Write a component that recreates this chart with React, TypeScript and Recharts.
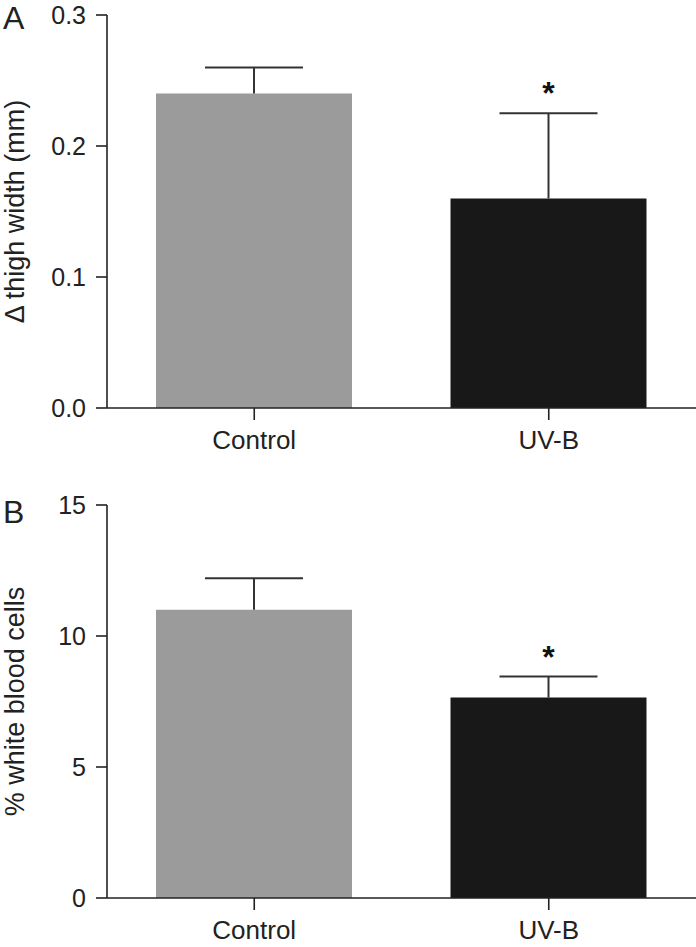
import React from 'react';
import { BarChart, Bar, XAxis, YAxis, Cell } from 'recharts';

const categories = ['Control', 'UV-B'];
const thighMean = [0.24, 0.16];
const thighErrTop = [0.26, 0.225];
const wbcMean = [11.0, 7.65];
const wbcErrTop = [12.2, 8.45];
const significant = [false, true];
const barColors = ['#9b9b9b', '#181818'];
const thighTicks = [0, 0.1, 0.2, 0.3];
const wbcTicks = [0, 5, 10, 15];

const FONT = '"Liberation Sans", Arial, Helvetica, sans-serif';
const AXIS = '#222';

const buildRows = (mean: number[], top: number[]) =>
  categories.map((c, i) => ({
    name: c,
    mean: mean[i],
    err: top[i] - mean[i],
    sig: significant[i],
  }));

const thighRows = buildRows(thighMean, thighErrTop);
const wbcRows = buildRows(wbcMean, wbcErrTop);

const ErrorT = (props: any) => {
  const { x, width, y, height, payload } = props;
  const cx = x + width / 2;
  const yTop = y;
  const yBottom = y + height;
  return (
    <g>
      <line x1={cx} x2={cx} y1={yTop} y2={yBottom} stroke="#333" strokeWidth={2} />
      <line x1={cx - 49} x2={cx + 49} y1={yTop} y2={yTop} stroke="#333" strokeWidth={2} />
      {payload && payload.sig ? (
        <text
          x={cx}
          y={yTop - 9}
          textAnchor="middle"
          fontSize={32}
          fontWeight="bold"
          fill="#111"
          fontFamily={FONT}
        >
          *
        </text>
      ) : null}
    </g>
  );
};

const yLabel = (text: string) => (props: any) => {
  const vb = props.viewBox || {};
  const cy = vb.y + vb.height / 2;
  const bx = 24;
  return (
    <text
      x={bx}
      y={cy}
      textAnchor="middle"
      fontSize={27}
      fill={AXIS}
      fontFamily={FONT}
      transform={`rotate(-90, ${bx}, ${cy})`}
    >
      {text}
    </text>
  );
};

type PanelProps = {
  rows: any[];
  height: number;
  top: number;
  xAxisHeight: number;
  domain: [number, number];
  ticks: number[];
  fmt: (v: number) => string;
  label: string;
};

const Panel = ({ rows, height, top, xAxisHeight, domain, ticks, fmt, label }: PanelProps) => (
  <BarChart
    width={696}
    height={height}
    data={rows}
    margin={{ top, right: 0, bottom: 0, left: 0 }}
    style={{ fontFamily: FONT }}
  >
    <XAxis
      dataKey="name"
      height={xAxisHeight}
      stroke={AXIS}
      strokeWidth={1.6}
      tickSize={12}
      tickMargin={11}
      tick={{ fill: AXIS, fontSize: 26, fontFamily: FONT }}
      tickLine={{ stroke: AXIS, strokeWidth: 1.6 }}
    />
    <YAxis
      width={107}
      domain={domain}
      ticks={ticks}
      allowDataOverflow
      tickFormatter={fmt}
      stroke={AXIS}
      strokeWidth={1.6}
      tickSize={11}
      tickMargin={10}
      tick={{ fill: AXIS, fontSize: 25, fontFamily: FONT }}
      tickLine={{ stroke: AXIS, strokeWidth: 1.6 }}
      label={{ content: yLabel(label) }}
    />
    <Bar dataKey="mean" stackId="s" barSize={196} isAnimationActive={false}>
      {rows.map((r, i) => (
        <Cell key={r.name} fill={barColors[i]} />
      ))}
    </Bar>
    <Bar dataKey="err" stackId="s" barSize={196} isAnimationActive={false} shape={<ErrorT />} />
  </BarChart>
);

export default function App() {
  return (
    <div style={{ position: 'absolute', left: 0, top: 0, width: 696, height: 947, background: '#fff' }}>
      <Panel
        rows={thighRows}
        height={470}
        top={15}
        xAxisHeight={62}
        domain={[0, 0.3]}
        ticks={thighTicks}
        fmt={(v) => v.toFixed(1)}
        label="Δ thigh width (mm)"
      />
      <Panel
        rows={wbcRows}
        height={477}
        top={35}
        xAxisHeight={49}
        domain={[0, 15]}
        ticks={wbcTicks}
        fmt={(v) => String(v)}
        label="% white blood cells"
      />
      <svg
        width={696}
        height={947}
        style={{ position: 'absolute', left: 0, top: 0, pointerEvents: 'none' }}
      >
        <text x={3} y={29} fontSize={32} fill={AXIS} fontFamily={FONT}>
          A
        </text>
        <text x={3} y={523} fontSize={32} fill={AXIS} fontFamily={FONT}>
          B
        </text>
      </svg>
    </div>
  );
}
